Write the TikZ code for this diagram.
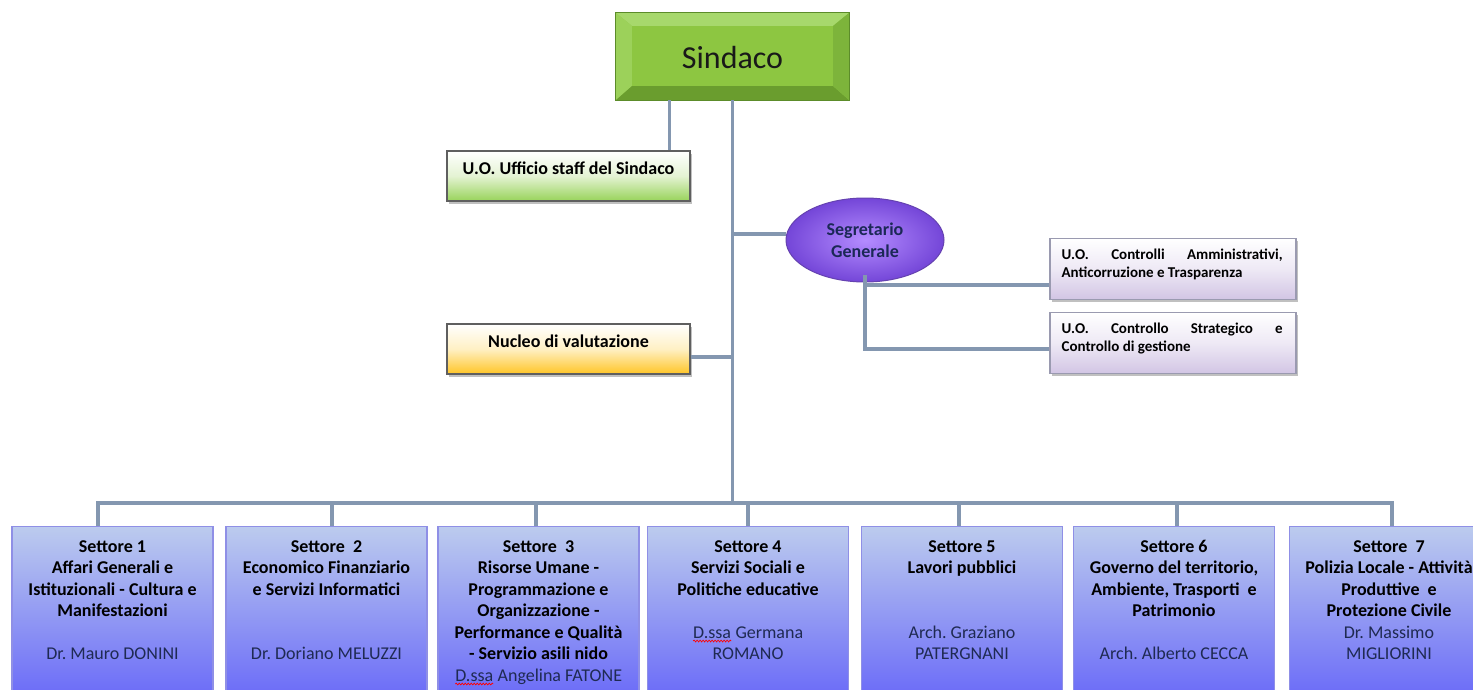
\documentclass[tikz,border=0pt]{standalone}
\usepackage{fontspec}
\setmainfont{Carlito}
\usetikzlibrary{shadows,shapes.geometric,decorations.pathmorphing}
\frenchspacing

\definecolor{linec}{HTML}{8497B0}
\definecolor{greenfill}{HTML}{8DC641}
\definecolor{greenlight}{HTML}{A7D86C}
\definecolor{greenleft}{HTML}{9CD15A}
\definecolor{greendark}{HTML}{6A9D2E}
\definecolor{greenright}{HTML}{7DB43B}
\definecolor{greenedge}{HTML}{5C8C2A}
\definecolor{staffbot}{HTML}{98D35A}
\definecolor{staffmid}{HTML}{E4F3D3}
\definecolor{nucbot}{HTML}{FFC526}
\definecolor{nucmid}{HTML}{FFF0C4}
\definecolor{boxedge}{HTML}{5F5F5F}
\definecolor{ctrlbot}{HTML}{D2C5E4}
\definecolor{ctrlmid}{HTML}{EEE9F5}
\definecolor{ctrledge}{HTML}{9A9AB0}
\definecolor{segin}{HTML}{B48CFF}
\definecolor{segout}{HTML}{7446D8}
\definecolor{segedge}{HTML}{6542B0}
\definecolor{segtext}{HTML}{1B2856}
\definecolor{setT}{HTML}{BCCBEE}
\definecolor{setB}{HTML}{6A6AF8}
\definecolor{setedge}{HTML}{8F8FE6}
\definecolor{namec}{HTML}{1F2A52}

% red wavy spelling mark under a word
\newcommand\spellmark[1]{\tikz[baseline=(sw.base)]{%
  \node[inner sep=0pt, outer sep=0pt, anchor=base, text=namec] (sw) at (0,0) {#1};
  \draw[red, line width=0.7bp, decorate, decoration={snake, amplitude=0.9bp, segment length=3bp}]
    ([yshift=-3bp]sw.base west) -- ([yshift=-3bp]sw.base east);}}
\newcommand\who[1]{{\mdseries\color{namec}#1}}

\tikzset{
  conn/.style={draw=linec, line width=3.2bp},
  softshadow/.style={drop shadow={shadow xshift=2bp, shadow yshift=-2.5bp, opacity=0.35, fill=black!70}},
  bodyfont/.style={font=\bfseries\fontsize{18bp}{21.5bp}\selectfont},
  settore/.style={draw=setedge, line width=1.2bp, top color=setT, bottom color=setB,
    minimum width=201bp, minimum height=172bp, anchor=north, inner sep=0pt},
  settxt/.style={bodyfont, anchor=north, align=center, inner sep=0pt, text=black},
  smallbox/.style={draw=boxedge, line width=1.2bp, minimum width=243bp, minimum height=50bp,
    inner sep=0pt, softshadow, bodyfont, text depth=16bp, text height=12bp},
  ctrlbox/.style={draw=ctrledge, line width=1.2bp, minimum width=246bp, minimum height=61bp,
    inner sep=0pt, softshadow, top color=white, bottom color=ctrlbot, middle color=ctrlmid},
  ctrltxt/.style={anchor=north west, align=left, inner sep=0pt,
    font=\bfseries\fontsize{15bp}{18bp}\selectfont, text=black},
}

\begin{document}
\begin{tikzpicture}[x=1bp, y=-1bp]
\useasboundingbox (0,0) rectangle (1473,690);
\clip (0,0) rectangle (1473,690);
\fill[white] (0,0) rectangle (1473,690);

% Sindaco: bevelled green block
\node[fill=greenfill, minimum width=233bp, minimum height=87bp, inner sep=0pt] (sindaco) at (732.5,56.5) {};
\fill[greenlight] (sindaco.north west) -- (sindaco.north east) -- ([xshift=-16bp,yshift=-13bp]sindaco.north east) -- ([xshift=16bp,yshift=-13bp]sindaco.north west) -- cycle;
\fill[greenleft] (sindaco.north west) -- ([xshift=16bp,yshift=-13bp]sindaco.north west) -- ([xshift=16bp,yshift=14bp]sindaco.south west) -- (sindaco.south west) -- cycle;
\fill[greendark] (sindaco.south west) -- ([xshift=16bp,yshift=14bp]sindaco.south west) -- ([xshift=-16bp,yshift=14bp]sindaco.south east) -- (sindaco.south east) -- cycle;
\fill[greenright] (sindaco.north east) -- (sindaco.south east) -- ([xshift=-16bp,yshift=14bp]sindaco.south east) -- ([xshift=-16bp,yshift=-13bp]sindaco.north east) -- cycle;
\draw[greenedge, line width=1bp] (sindaco.north west) rectangle (sindaco.south east);
\node[font=\fontsize{32bp}{38bp}\selectfont, text=black!90, inner sep=0pt] (sindacotxt) at (732.5,58) {Sindaco};

% staff and evaluation units
\node[smallbox, top color=white, bottom color=staffbot, middle color=staffmid] (staff) at (568.5,176) {U.O. Ufficio staff del Sindaco};
\node[smallbox, top color=white, bottom color=nucbot, middle color=nucmid] (nucleo) at (568.5,349) {Nucleo di valutazione};

% Segretario Generale
\node[ellipse, draw=segedge, line width=1bp, shading=radial, inner color=segin, outer color=segout,
  minimum width=158bp, minimum height=84bp, inner sep=0pt, bodyfont, text=segtext, align=center] (segr) at (865,240) {Segretario\\Generale};

% control units
\node[ctrlbox] (ctrl1) at (1173,269) {};
\node[ctrltxt] (ctrl1txt) at ([xshift=12bp,yshift=-11bp]ctrl1.north west)
  {\makebox[221bp][s]{U.O. Controlli Amministrativi,}\\Anticorruzione e Trasparenza};
\node[ctrlbox] (ctrl2) at (1173,343) {};
\node[ctrltxt] (ctrl2txt) at ([xshift=12bp,yshift=-11bp]ctrl2.north west)
  {\makebox[221bp][s]{U.O. Controllo Strategico e}\\Controllo di gestione};

% sectors
\node[settore] (s1) at (112.5,526) {};
\node[settore] (s2) at (326.5,526) {};
\node[settore] (s3) at (538.5,526) {};
\node[settore] (s4) at (748,526) {};
\node[settore] (s5) at (962,526) {};
\node[settore] (s6) at (1174,526) {};
\node[settore] (s7) at (1390,526) {};

\node[settxt] (t1) at (112.5,540) {Settore 1\\Affari Generali e\\Istituzionali - Cultura e\\Manifestazioni\\[21.5bp]\who{Dr. Mauro DONINI}};
\node[settxt] (t2) at (326.5,540) {Settore~ 2\\Economico Finanziario\\e Servizi Informatici\\[43bp]\who{Dr. Doriano MELUZZI}};
\node[settxt] (t3) at (538.5,540) {Settore~ 3\\Risorse Umane -\\Programmazione e\\Organizzazione -\\Performance e Qualità\\- Servizio asili nido\\\who{\spellmark{D.ssa} Angelina FATONE}};
\node[settxt] (t4) at (748,540) {Settore 4\\Servizi Sociali e\\Politiche educative\\[21.5bp]\who{\spellmark{D.ssa} Germana}\\\who{ROMANO}};
\node[settxt] (t5) at (962,540) {Settore 5\\Lavori pubblici\\[43bp]\who{Arch. Graziano}\\\who{PATERGNANI}};
\node[settxt] (t6) at (1174,540) {Settore 6\\Governo del territorio,\\Ambiente, Trasporti~ e\\Patrimonio\\[21.5bp]\who{Arch. Alberto CECCA}};
\node[settxt] (t7) at (1389,540) {Settore~ 7\\Polizia Locale - Attività\\Produttive~ e\\Protezione Civile\\\who{Dr. Massimo}\\\who{MIGLIORINI}};

% connectors
\coordinate (hub) at (733,503);
\draw[conn] (sindaco.south) -- (sindaco.south |- hub);
\coordinate (staffdrop) at ([xshift=-21bp]staff.north east);
\draw[conn] (staffdrop |- sindaco.south) -- (staffdrop);
\coordinate (segbranch) at ([yshift=6bp]segr.west);
\draw[conn] (sindaco.south |- segbranch) -- (segbranch);
\coordinate (nucbranch) at ([yshift=-8bp]nucleo.east);
\draw[conn] (nucbranch) -- (nucbranch -| sindaco.south);

\coordinate (c1in) at ([yshift=-16bp]ctrl1.west);
\coordinate (c2in) at ([yshift=-6bp]ctrl2.west);
\draw[conn] ([yshift=8bp]segr.south) |- (c2in);
\draw[conn] (segr.south |- c1in) -- (c1in);

\coordinate (d1) at ([xshift=-14.5bp]s1.north);
\coordinate (d2) at ([xshift=5.5bp]s2.north);
\coordinate (d3) at ([xshift=-2.5bp]s3.north);
\coordinate (d4) at (s4.north);
\coordinate (d5) at ([xshift=-3bp]s5.north);
\coordinate (d6) at ([xshift=3bp]s6.north);
\coordinate (d7) at ([xshift=2bp]s7.north);
\draw[conn] (d1) -- (d1 |- hub) -- (d7 |- hub) -- (d7);
\foreach \d in {d2,d3,d4,d5,d6}
  \draw[conn] (\d |- hub) -- (\d);
\end{tikzpicture}
\end{document}
